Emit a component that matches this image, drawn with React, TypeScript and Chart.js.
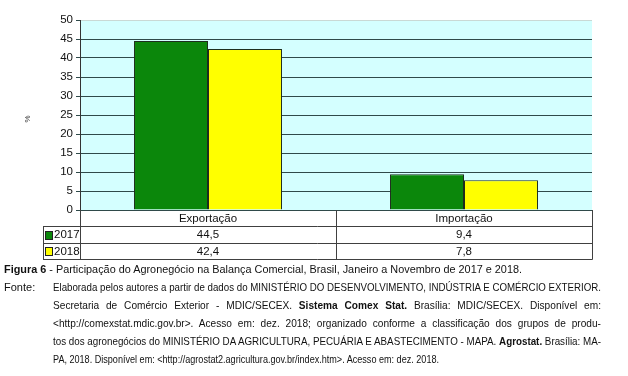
import React, { useEffect, useLayoutEffect, useRef } from "react";
import { Chart, registerables } from "chart.js";

Chart.register(...registerables);

// ---------- data ----------
const categories = ["Exportação", "Importação"];
const seriesLabels = ["2017", "2018"];
const values2017 = [44.5, 9.4];
const values2018 = [42.4, 7.8];
const yMin = 0;
const yMax = 50;
const yStep = 5;
const yAxisLabel = "%";

const figureTitle = "Figura 6";
const figureText =
  " - Participação do Agronegócio na Balança Comercial, Brasil, Janeiro a Novembro de 2017 e 2018.";
const sourceLabel = "Fonte:";

// ---------- styles ----------
const seriesColors = ["#0b870b", "#ffff00"];
const barBorder = "#1e2e1e";
const plotBg = "#d4ffff";
const gridDark = "#2f4a4a";
const gridTop = "#c9d9d5";
const tableLine = "#404040";
const FONT = '"Liberation Sans", Arial, sans-serif';

const seriesValues = [values2017, values2018];

const fmt = (v: number) => v.toFixed(1).replace(".", ",");

const bgPlugin = {
  id: "plotBg",
  beforeDraw(chart: any) {
    const { ctx, chartArea: a } = chart;
    ctx.save();
    ctx.fillStyle = plotBg;
    ctx.fillRect(a.left, a.top, a.right - a.left, a.bottom - a.top);
    ctx.restore();
  },
};

const tablePlugin = {
  id: "dataTable",
  afterDraw(chart: any) {
    const { ctx, chartArea: a } = chart;
    const xs = chart.scales.x;
    const n = categories.length;
    const colW = (a.right - a.left) / n;
    const rowH = 16.4;
    const top = a.bottom;
    const legendLeft = 43;
    const line = (x1: number, y1: number, x2: number, y2: number) => {
      ctx.beginPath();
      ctx.moveTo(x1, y1);
      ctx.lineTo(x2, y2);
      ctx.stroke();
    };
    ctx.save();
    ctx.strokeStyle = tableLine;
    ctx.lineWidth = 1;
    for (let r = 1; r <= 3; r++) {
      const y = Math.round(top + r * rowH) + 0.5;
      line(legendLeft, y, a.right + 0.5, y);
    }
    for (let c = 0; c <= n; c++) {
      const xx = Math.round(a.left + c * colW) + 0.5;
      line(xx, top, xx, Math.round(top + 3 * rowH) + 0.5);
    }
    line(legendLeft + 0.5, Math.round(top + rowH) + 0.5, legendLeft + 0.5, Math.round(top + 3 * rowH) + 0.5);

    ctx.fillStyle = "#111";
    ctx.font = `11.5px ${FONT}`;
    ctx.textBaseline = "middle";
    ctx.textAlign = "center";
    categories.forEach((c, i) => {
      ctx.fillText(c, xs.getPixelForValue(i), top + rowH / 2 + 1);
    });
    seriesValues.forEach((vals, j) => {
      const cy = top + (j + 1.5) * rowH + 0.5;
      ctx.textAlign = "center";
      vals.forEach((v, i) => {
        ctx.fillText(fmt(v), xs.getPixelForValue(i), cy);
      });
      // legend swatch
      ctx.fillStyle = seriesColors[j];
      ctx.fillRect(46, Math.round(cy - 3.5), 6, 7);
      ctx.strokeStyle = "#222";
      ctx.strokeRect(45.5, Math.round(cy - 3.5) - 0.5, 7, 8);
      ctx.fillStyle = "#111";
      ctx.textAlign = "left";
      ctx.fillText(seriesLabels[j], 54, cy);
    });

    // y axis label
    ctx.translate(28, 119);
    ctx.rotate(-Math.PI / 2);
    ctx.textAlign = "center";
    ctx.font = `8px ${FONT}`;
    ctx.fillStyle = "#333";
    ctx.fillText(yAxisLabel, 0, 0);
    ctx.restore();
  },
};

function ChartCanvas() {
  const ref = useRef<HTMLCanvasElement>(null);
  useEffect(() => {
    const chart = new Chart(ref.current!, {
      type: "bar",
      data: {
        labels: categories,
        datasets: seriesLabels.map((lab, j) => ({
          label: lab,
          data: seriesValues[j],
          backgroundColor: seriesColors[j],
          borderColor: barBorder,
          borderWidth: 1,
          categoryPercentage: 0.578,
          barPercentage: 1,
        })),
      },
      options: {
        animation: false,
        responsive: false,
        devicePixelRatio: 1,
        layout: { padding: { top: 20, right: 36, bottom: 52, left: 0 } },
        plugins: { legend: { display: false }, tooltip: { enabled: false }, title: { display: false } },
        scales: {
          x: { display: false },
          y: {
            min: yMin,
            max: yMax,
            afterFit: (s: any) => {
              s.width = 80;
            },
            ticks: { stepSize: yStep, color: "#111", font: { size: 11.5, family: FONT }, padding: 3 },
            grid: {
              color: (c: any) => (c.tick && c.tick.value === yMax ? gridTop : gridDark),
              tickColor: gridDark,
              tickLength: 4,
              lineWidth: 1,
            },
            border: { display: true, color: "#333", width: 1 },
          },
        },
      },
      plugins: [bgPlugin, tablePlugin],
    });
    return () => chart.destroy();
  }, []);
  return <canvas ref={ref} width={628} height={262} style={{ display: "block", width: 628, height: 262 }} />;
}

// One caption line: compressed horizontally (at most maxScale) to fit its width, then justified if asked.
function FitLine(props: {
  left: number;
  top: number;
  width: number;
  lh: number;
  justify?: boolean;
  maxScale?: number;
  children: React.ReactNode;
}) {
  const ref = useRef<HTMLDivElement>(null);
  useLayoutEffect(() => {
    const d = ref.current!;
    const s = d.firstElementChild as HTMLElement;
    const fit = () => {
      d.style.textAlignLast = "auto";
      d.style.transform = "none";
      d.style.width = "auto";
      const w = s.getBoundingClientRect().width;
      const k = Math.min(props.maxScale ?? 1, props.width / w);
      d.style.transform = `scaleX(${k})`;
      if (props.justify) {
        d.style.width = `${props.width / k}px`;
        d.style.textAlignLast = "justify";
      }
    };
    fit();
    if ((document as any).fonts) (document as any).fonts.ready.then(fit);
  }, []);
  return (
    <div
      ref={ref}
      style={{
        position: "absolute",
        left: props.left,
        top: props.top,
        height: props.lh,
        lineHeight: `${props.lh}px`,
        whiteSpace: "nowrap",
        transformOrigin: "0 0",
        textAlign: "left",
      }}
    >
      <span>{props.children}</span>
    </div>
  );
}

export default function App() {
  const capTop = 260;
  const lh = 18;
  const L = 53;
  const W = 548;
  const ms = 0.92;
  return (
    <div
      style={{
        position: "absolute",
        left: 0,
        top: 0,
        width: 628,
        height: 376,
        background: "#fff",
        fontFamily: FONT,
        fontSize: 11,
        color: "#111",
        overflow: "hidden",
      }}
    >
      <ChartCanvas />
      <FitLine left={4} top={capTop} width={518} lh={lh}>
        <b>{figureTitle}</b>
        {figureText}
      </FitLine>
      <div style={{ position: "absolute", left: 4, top: capTop + lh, height: lh, lineHeight: `${lh}px` }}>{sourceLabel}</div>
      <FitLine left={L} top={capTop + lh} width={W} lh={lh} justify maxScale={ms}>
        Elaborada pelos autores a partir de dados do MINISTÉRIO DO DESENVOLVIMENTO, INDÚSTRIA E COMÉRCIO EXTERIOR.
      </FitLine>
      <FitLine left={L} top={capTop + 2 * lh} width={W} lh={lh} justify maxScale={ms}>
        Secretaria de Comércio Exterior - MDIC/SECEX. <b>Sistema Comex Stat.</b> Brasília: MDIC/SECEX. Disponível em:
      </FitLine>
      <FitLine left={L} top={capTop + 3 * lh} width={W} lh={lh} justify maxScale={ms}>
        {"<http://comexstat.mdic.gov.br>. Acesso em: dez. 2018; organizado conforme a classificação dos grupos de produ-"}
      </FitLine>
      <FitLine left={L} top={capTop + 4 * lh} width={W} lh={lh} justify maxScale={ms}>
        tos dos agronegócios do MINISTÉRIO DA AGRICULTURA, PECUÁRIA E ABASTECIMENTO - MAPA. <b>Agrostat.</b> Brasília: MA-
      </FitLine>
      <FitLine left={L} top={capTop + 5 * lh} width={386} lh={lh} maxScale={ms}>
        {"PA, 2018. Disponível em: <http://agrostat2.agricultura.gov.br/index.htm>. Acesso em: dez. 2018."}
      </FitLine>
    </div>
  );
}
